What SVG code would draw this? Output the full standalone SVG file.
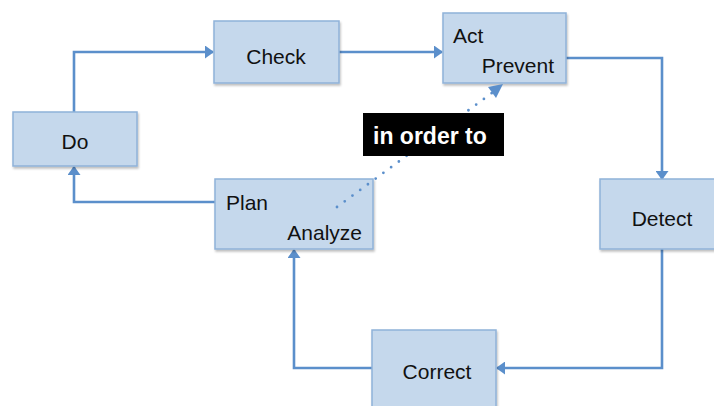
<svg xmlns="http://www.w3.org/2000/svg" width="714" height="406" viewBox="0 0 714 406">
<defs>
<style>
.box{fill:#c5d8ec;stroke:#8fb2d9;stroke-width:1.5}
.t{font-family:"Liberation Sans",Arial,sans-serif;font-size:21px;fill:#111}
.c{fill:none;stroke:#5b8fcb;stroke-width:2.6}
.d{fill:none;stroke:#5b8fcb;stroke-width:2.8;stroke-dasharray:0 9.6;stroke-linecap:round}
</style>
<filter id="sh" x="-10%" y="-10%" width="130%" height="130%">
<feDropShadow dx="1" dy="2" stdDeviation="1.2" flood-color="#000" flood-opacity="0.25"/>
</filter>
<marker id="ah" viewBox="0 0 9 13" refX="8" refY="6.5" markerWidth="9" markerHeight="13" markerUnits="userSpaceOnUse" orient="auto">
<path d="M0,0 L9,6.5 L0,13 z" fill="#5b8fcb"/>
</marker>
</defs>
<rect width="714" height="406" fill="#fff"/>
<g id="connectors">
<path class="c" d="M74,112 V52 H213" marker-end="url(#ah)"/>
<path class="c" d="M339,52 H442" marker-end="url(#ah)"/>
<path class="c" d="M566,58 H662 V179" marker-end="url(#ah)"/>
<path class="c" d="M662,249 V368 H497" marker-end="url(#ah)"/>
<path class="c" d="M372,368 H294 V250" marker-end="url(#ah)"/>
<path class="c" d="M215,202 H74 V167" marker-end="url(#ah)"/>
</g>
<g id="do"><rect class="box" x="13" y="112" width="124" height="54" filter="url(#sh)"/><text class="t" x="75" y="149" text-anchor="middle">Do</text></g>
<g id="check"><rect class="box" x="214" y="21" width="125" height="62" filter="url(#sh)"/><text class="t" x="276" y="64" text-anchor="middle">Check</text></g>
<g id="act"><rect class="box" x="443" y="13" width="123" height="70" filter="url(#sh)"/><text class="t" x="453" y="43">Act</text><text class="t" x="554" y="73" text-anchor="end">Prevent</text></g>
<g id="detect"><rect class="box" x="600" y="179" width="118" height="70" filter="url(#sh)"/><text class="t" x="662" y="226" text-anchor="middle">Detect</text></g>
<g id="correct"><rect class="box" x="372" y="330" width="124" height="80" filter="url(#sh)"/><text class="t" x="437" y="379" text-anchor="middle">Correct</text></g>
<g id="plan"><rect class="box" x="215" y="179" width="158" height="70" filter="url(#sh)"/><text class="t" x="226" y="210">Plan</text><text class="t" x="362" y="240" text-anchor="end">Analyze</text></g>
<g id="link">
<path class="d" d="M337,207 L496,90"/>
<path d="M503,84 L488,87 L496,98 z" fill="#5b8fcb"/>
<rect x="363" y="113" width="141" height="43" fill="#000"/>
<text x="373" y="144" font-family="'Liberation Sans',Arial,sans-serif" font-size="23" font-weight="bold" fill="#fff">in order to</text>
</g>
</svg>
